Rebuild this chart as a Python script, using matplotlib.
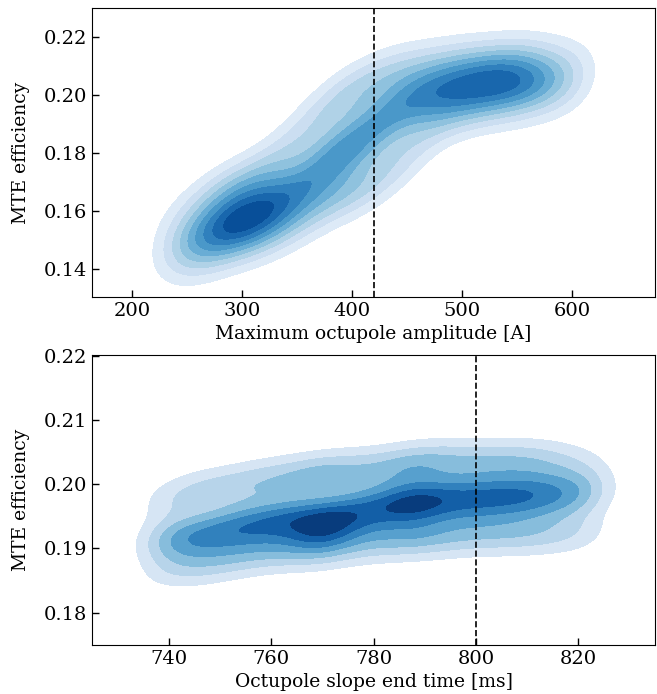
import numpy as np
import matplotlib.pyplot as plt

plt.rcParams['font.family'] = 'DejaVu Serif'
plt.rcParams['font.size'] = 13.5

# --- data: ridge centre and upper/lower spread ---
amp_x = [240, 260, 280, 300, 320, 340, 360, 380, 400, 420, 440, 460, 480,
         500, 520, 540, 560, 580, 600]
amp_mid = [0.148, 0.151, 0.155, 0.158, 0.161, 0.165, 0.170, 0.177, 0.183,
           0.189, 0.195, 0.199, 0.201, 0.203, 0.204, 0.205, 0.205, 0.205,
           0.206]
amp_hi = [0.157, 0.161, 0.166, 0.169, 0.173, 0.180, 0.188, 0.195, 0.201,
          0.205, 0.208, 0.209, 0.210, 0.211, 0.211, 0.212, 0.212, 0.212,
          0.212]
amp_lo = [0.141, 0.143, 0.147, 0.150, 0.152, 0.155, 0.159, 0.164, 0.167,
          0.171, 0.177, 0.185, 0.192, 0.195, 0.197, 0.198, 0.199, 0.199,
          0.200]
amp_w = [0.35, 0.7, 1.0, 1.2, 1.15, 1.0, 0.9, 1.1, 1.1, 1.0, 0.95, 0.9,
         0.89, 0.89, 0.89, 0.88, 0.75, 0.5, 0.3]
amp_ref = 420

time_x = [740, 746, 752, 758, 764, 770, 776, 782, 788, 794, 800, 806, 812,
          818, 822]
time_mid = [0.1915, 0.1920, 0.1930, 0.1940, 0.1945, 0.1942, 0.1955, 0.1965,
            0.1972, 0.1975, 0.1978, 0.1980, 0.1982, 0.1982, 0.1985]
time_hi = [0.1975, 0.1990, 0.1995, 0.2005, 0.2010, 0.2015, 0.2020, 0.2025,
           0.2030, 0.2035, 0.2035, 0.2035, 0.2035, 0.2030, 0.2020]
time_lo = [0.1870, 0.1875, 0.1885, 0.1895, 0.1900, 0.1905, 0.1910, 0.1915,
           0.1920, 0.1920, 0.1925, 0.1925, 0.1925, 0.1925, 0.1925]
time_w = [0.6, 0.7, 0.75, 0.8, 0.84, 1.12, 0.84, 0.84, 1.12, 0.86, 0.86,
          0.86, 0.82, 0.55, 0.3]
time_ref = 800

SIDE = 0.5  # relative weight of the upper/lower spread points


def density(px, py, pw, xlim, ylim, sx, sy, rho, n=200):
    gx = np.linspace(*xlim, n)
    gy = np.linspace(*ylim, n)
    X, Y = np.meshgrid(gx, gy)
    Z = np.zeros_like(X)
    for x0, y0, w in zip(px, py, pw):
        dx = (X - x0) / sx
        dy = (Y - y0) / sy
        q = (dx**2 + dy**2 - 2 * rho * dx * dy) / (1 - rho**2)
        Z += w * np.exp(-0.5 * q)
    return X, Y, Z


def kde_panel(ax, x, mid, hi, lo, w, xlim, ylim, sx, sy, rho, fracs, cols):
    w = np.asarray(w)
    px = np.concatenate([x, x, x])
    py = np.concatenate([mid, hi, lo])
    pw = np.concatenate([w, SIDE * w, SIDE * w])
    X, Y, Z = density(px, py, pw, xlim, ylim, sx, sy, rho)
    levels = np.array(fracs) * Z.max()
    levels[-1] = Z.max() * 1.001
    ax.contourf(X, Y, Z, levels=levels, colors=cols)
    ax.set_xlim(xlim)
    ax.set_ylim(ylim)


fig = plt.figure(figsize=(6.57, 6.94), dpi=100)
ax1 = fig.add_axes([0.140, 0.572, 0.857, 0.416])
ax2 = fig.add_axes([0.140, 0.071, 0.857, 0.417])

kde_panel(ax1, amp_x, amp_mid, amp_hi, amp_lo, amp_w,
          (163.6, 675), (0.1303, 0.230), 18, 0.0068, 0.3,
          np.linspace(0.1, 1.0, 10), plt.cm.Blues(np.linspace(0.13, 0.88, 9)))
ax1.axvline(amp_ref, color='k', ls='--', lw=1.2)
ax1.set_xticks([200, 300, 400, 500, 600])
ax1.set_yticks([0.14, 0.16, 0.18, 0.20, 0.22])
ax1.set_xlabel('Maximum octupole amplitude [A]')
ax1.set_ylabel('MTE efficiency', labelpad=10)

kde_panel(ax2, time_x, time_mid, time_hi, time_lo, time_w,
          (725, 835), (0.175, 0.2201), 4.5, 0.0025, 0.2,
          np.linspace(0.125, 1.0, 8), plt.cm.Blues(np.linspace(0.17, 0.95, 7)))
ax2.axvline(time_ref, color='k', ls='--', lw=1.2)
ax2.set_xticks([740, 760, 780, 800, 820])
ax2.set_yticks([0.18, 0.19, 0.20, 0.21, 0.22])
ax2.set_xlabel('Octupole slope end time [ms]')
ax2.set_ylabel('MTE efficiency', labelpad=10)

for ax in (ax1, ax2):
    ax.tick_params(direction='in', length=5, width=1, labelsize=14)
    ax.yaxis.set_major_formatter(plt.FormatStrFormatter('%.2f'))

fig.savefig('out.png', dpi=100)
